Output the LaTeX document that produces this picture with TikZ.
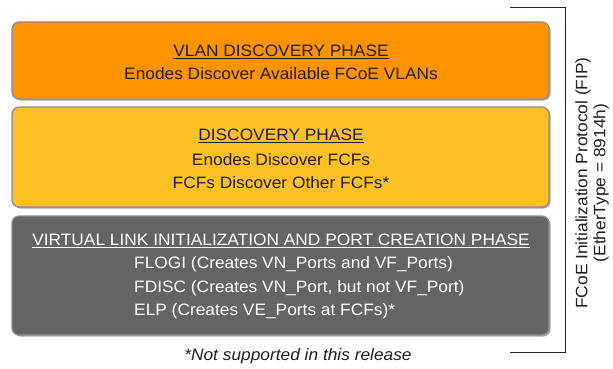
\documentclass[tikz,border=0pt]{standalone}
\usepackage{fontspec}
\setmainfont{Liberation Sans}[FakeStretch=1.05]
\usetikzlibrary{shadows}
\definecolor{phaseorange}{RGB}{255,148,0}
\definecolor{phaseyellow}{RGB}{255,193,37}
\definecolor{phasegray}{RGB}{100,100,100}
\definecolor{edgegray}{RGB}{140,140,140}
\definecolor{inkdark}{RGB}{30,30,30}
\tikzset{
  phase/.style={draw=edgegray, line width=1.2pt, rounded corners=7pt,
    minimum width=537pt, inner sep=0pt,
    drop shadow={shadow xshift=1.5pt, shadow yshift=-1.5pt, opacity=0.35, fill=black}},
  txt/.style={font=\fontsize{16.5}{19}\selectfont, inner sep=0pt, anchor=center},
  bracket/.style={line width=1pt, draw=black!85}
}
\begin{document}
\begin{tikzpicture}[x=1pt, y=-1pt]
  \useasboundingbox (0,0) rectangle (613,369);
  % phase boxes
  \node[phase, fill=phaseorange, minimum height=77pt] (vlan) at (280.5,60.5) {};
  \node[phase, fill=phaseyellow, minimum height=100pt] (disc) at (280.5,157) {};
  \node[phase, fill=phasegray, minimum height=119pt] (vlink) at (280.5,275.5) {};
  % VLAN discovery text
  \node[txt, text=inkdark] (t1a) at (281,52) {\underline{VLAN DISCOVERY PHASE}};
  \node[txt, text=inkdark] (t1b) at (281,74) {Enodes Discover Available FCoE VLANs};
  % discovery text
  \node[txt, text=inkdark] (t2a) at (281,136) {\underline{DISCOVERY PHASE}};
  \node[txt, text=inkdark] (t2b) at (281,160) {Enodes Discover FCFs};
  \node[txt, text=inkdark] (t2c) at (281,183) {FCFs Discover Other FCFs*};
  % virtual link text
  \node[txt, text=white] (t3a) at (281,241) {\underline{VIRTUAL LINK INITIALIZATION AND PORT CREATION PHASE}};
  \node[txt, text=white, anchor=west] (t3b) at (134,264) {FLOGI (Creates VN\_Ports and VF\_Ports)};
  \node[txt, text=white, anchor=west] (t3c) at (134,288) {FDISC (Creates VN\_Port, but not VF\_Port)};
  \node[txt, text=white, anchor=west] (t3d) at (134,311) {ELP (Creates VE\_Ports at FCFs)*};
  % footnote
  \node[txt, text=inkdark, font=\fontsize{16.5}{19}\selectfont\itshape] (note) at (298,356) {*Not supported in this release};
  % FIP bracket
  \coordinate (btl) at (510,8);
  \coordinate (btr) at (565,8);
  \coordinate (bbr) at (565,352);
  \coordinate (bbl) at (510,352);
  \draw[bracket] (btl) -- (btr) -- (bbr) -- (bbl);
  \node[txt, rotate=90, text=inkdark] (fip1) at (583,183) {FCoE Initialization Protocol (FIP)};
  \node[txt, rotate=90, text=inkdark] (fip2) at (601,183) {(EtherType = 8914h)};
\end{tikzpicture}
\end{document}
